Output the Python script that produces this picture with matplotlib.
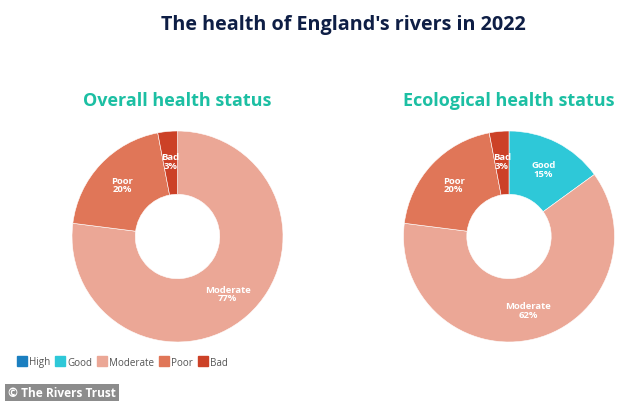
import matplotlib
matplotlib.use("Agg")
import matplotlib.pyplot as plt
from matplotlib.lines import Line2D
import numpy as np

plt.rcParams['font.family'] = ['Open Sans', 'DejaVu Sans']

title = "The health of England's rivers in 2022"
categories = ["High", "Good", "Moderate", "Poor", "Bad"]
colors = ["#1b7fc0", "#2ec8d8", "#eba796", "#e07658", "#cc4127"]
overall_title = "Overall health status"
overall_values = [0, 0, 77, 20, 3]
eco_title = "Ecological health status"
eco_values = [0, 15, 62, 20, 3]

W, H = 634, 402
fig = plt.figure(figsize=(W / 100, H / 100), dpi=100)
fig.patch.set_facecolor("white")

def px_axes(cx, cy, r):
    return fig.add_axes([(cx - r) / W, (H - cy - r) / H, 2 * r / W, 2 * r / H])

def donut(ax, values):
    vals = [v for v in values if v > 0]
    cols = [c for c, v in zip(colors, values) if v > 0]
    labs = [l for l, v in zip(categories, values) if v > 0]
    wedges, _ = ax.pie(vals, colors=cols, startangle=90, counterclock=False,
                       radius=1.0, wedgeprops=dict(width=0.6, edgecolor="white", linewidth=0.4))
    total = sum(vals)
    for w, lab, v in zip(wedges, labs, vals):
        ang = np.deg2rad((w.theta1 + w.theta2) / 2)
        rr = 0.72
        ax.text(rr * np.cos(ang), rr * np.sin(ang), f"{lab}\n{round(100 * v / total)}%",
                ha="center", va="center", color="white", fontsize=6.8, fontweight="bold",
                linespacing=0.95)
    ax.set_xlim(-1, 1)
    ax.set_ylim(-1, 1)
    ax.set_aspect("equal")
    ax.axis("off")

ax1 = px_axes(177.5, 237.5, 105.5)
donut(ax1, overall_values)
ax2 = px_axes(509, 237.5, 105.5)
donut(ax2, eco_values)

fig.text(343 / W, 1 - 25 / H, title, ha="center", va="center", fontsize=14.2,
         fontweight="bold", color="#0e1e45")
fig.text(177 / W, 1 - 101 / H, overall_title, ha="center", va="center", fontsize=13,
         fontweight="bold", color="#1cbfa3")
fig.text(509 / W, 1 - 101 / H, eco_title, ha="center", va="center", fontsize=13,
         fontweight="bold", color="#1cbfa3")

handles = [Line2D([0], [0], marker="s", linestyle="none", markersize=6.5,
                  markerfacecolor=c, markeredgecolor=c) for c in colors]
leg = fig.legend(handles, categories, loc="center left", bbox_to_anchor=(18 / W, 1 - 363 / H),
                 ncol=5, frameon=False, fontsize=7.1, handletextpad=0.3, columnspacing=0.62,
                 handlelength=0.8, borderaxespad=0, borderpad=0)
for t in leg.get_texts():
    t.set_color("#555555")

fig.text(8 / W, 1 - 394 / H, "© The Rivers Trust", ha="left", va="center", fontsize=8.6,
         fontweight="bold", color="white",
         bbox=dict(boxstyle="square,pad=0.25", facecolor="#8c8c8c", edgecolor="none"))

fig.savefig("out.png", dpi=100, facecolor="white")
